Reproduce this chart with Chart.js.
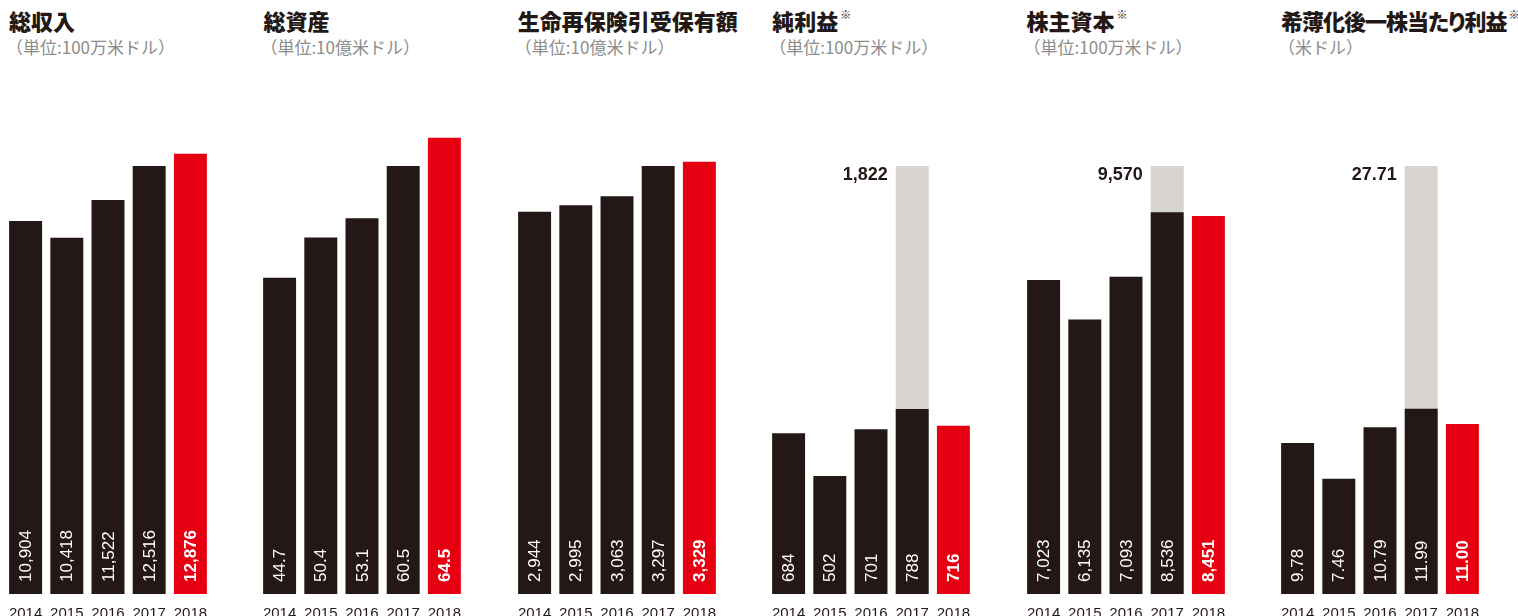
<!DOCTYPE html>
<html>
<head>
<meta charset="utf-8">
<script src="https://cdn.jsdelivr.net/npm/chart.js@4.4.1/dist/chart.umd.min.js"></script>
<style>
  html, body { margin: 0; padding: 0; background: #fff; overflow: hidden; }
  body { width: 1518px; height: 616px; position: relative; }
  .head { position: absolute; top: 5px; width: 250px; white-space: nowrap; }
  .ttl { font-family: "Noto Sans CJK JP", sans-serif; font-weight: 900; font-size: 22px; color: #231815; line-height: 30px; font-feature-settings: "palt"; }
  .ttl.long { letter-spacing: -1px; }
  .ttl .note { font-size: 11px; font-weight: 400; vertical-align: top; line-height: 14px; position: relative; top: 2px; margin-left: 2px; letter-spacing: 0; }
  .sub { font-family: "Noto Sans CJK JP", sans-serif; font-size: 17px; color: #8c8c8c; line-height: 24px; margin-left: -3px; }
  canvas { position: absolute; }
</style>
</head>
<body>
<script>
// data
const years = ['2014', '2015', '2016', '2017', '2018'];
const titles = ['総収入', '総資産', '生命再保険引受保有額', '純利益', '株主資本', '希薄化後一株当たり利益'];
const subtitles = ['（単位:100万米ドル）', '（単位:10億米ドル）', '（単位:10億米ドル）', '（単位:100万米ドル）', '（単位:100万米ドル）', '（米ドル）'];
const hasNote = [false, false, false, true, true, true];

const revenue = [10904, 10418, 11522, 12516, 12876];
const totalAssets = [44.7, 50.4, 53.1, 60.5, 64.5];
const lifeReinsurance = [2944, 2995, 3063, 3297, 3329];
const netIncome = [684, 502, 701, 788, 716];
const netIncomeGrey = [null, null, null, 1822, null];
const equity = [7023, 6135, 7093, 8536, 8451];
const equityGrey = [null, null, null, 9570, null];
const eps = [9.78, 7.46, 10.79, 11.99, 11.00];
const epsGrey = [null, null, null, 27.71, null];

const series = [revenue, totalAssets, lifeReinsurance, netIncome, equity, eps];
const greySeries = [null, null, null, netIncomeGrey, equityGrey, epsGrey];
const decimals = [0, 1, 0, 0, 0, 2];

const DARK = '#231815';
const RED = '#e60012';
const GREY = '#d7d3d0';
const PITCH = 254.4;

function fmt(v, d) {
    return v.toLocaleString('en-US', { minimumFractionDigits: d, maximumFractionDigits: d });
}

const barLabels = {
    id: 'barLabels',
    afterDatasetsDraw(chart) {
        const ctx = chart.ctx;
        const d = chart.options.plugins.barLabels.decimals;
        const vals = chart.data.datasets[0].data;
        chart.getDatasetMeta(0).data.forEach((bar, i) => {
            ctx.save();
            ctx.translate(bar.x + 1, bar.base - 12);
            ctx.rotate(-Math.PI / 2);
            ctx.fillStyle = '#fff';
            ctx.font = (i === vals.length - 1 ? 'bold ' : '') + '17px "Liberation Sans", Arial, sans-serif';
            ctx.textAlign = 'left';
            ctx.textBaseline = 'middle';
            ctx.fillText(fmt(vals[i], d), 0, 0);
            ctx.restore();
        });
        // total label next to grey bar
        if (chart.data.datasets.length > 1) {
            const greyVals = chart.data.datasets[1].data;
            chart.getDatasetMeta(1).data.forEach((bar, i) => {
                if (greyVals[i] == null) return;
                ctx.save();
                ctx.fillStyle = DARK;
                ctx.font = 'bold 18px "Liberation Sans", Arial, sans-serif';
                ctx.textAlign = 'right';
                ctx.textBaseline = 'alphabetic';
                ctx.fillText(fmt(greyVals[i], d), bar.x - bar.width / 2 - 8, bar.y + 14);
                ctx.restore();
            });
        }
    }
};

series.forEach((vals, n) => {
    const left = 9 + n * PITCH;

    const head = document.createElement('div');
    head.className = 'head';
    head.style.left = left + 'px';
    const cls = titles[n].length > 10 ? 'ttl long' : 'ttl';
    head.innerHTML = '<div class="' + cls + '">' + titles[n] + (hasNote[n] ? '<span class="note">※</span>' : '') +
        '</div><div class="sub">' + subtitles[n] + '</div>';
    document.body.appendChild(head);

    const canvas = document.createElement('canvas');
    canvas.width = 206;
    canvas.height = 522;
    canvas.style.left = (left - 4.1) + 'px';
    canvas.style.top = '101px';
    document.body.appendChild(canvas);

    const grey = greySeries[n];
    const refTop = grey ? grey[3] : vals[3];

    const datasets = [{
        data: vals,
        backgroundColor: vals.map((v, i) => i === vals.length - 1 ? RED : DARK),
        barPercentage: 0.8,
        categoryPercentage: 1.0,
        grouped: false
    }];
    if (grey) {
        datasets.push({
            data: grey,
            backgroundColor: GREY,
            barPercentage: 0.8,
            categoryPercentage: 1.0,
            grouped: false
        });
    }

    new Chart(canvas.getContext('2d'), {
        type: 'bar',
        data: { labels: years, datasets: datasets },
        options: {
            responsive: false,
            animation: false,
            layout: { padding: { top: 35, left: 0, right: 0, bottom: 0 } },
            scales: {
                x: {
                    grid: { display: false, drawTicks: true, tickLength: 11 },
                    border: { display: false },
                    ticks: {
                        color: DARK,
                        padding: 0,
                        maxRotation: 0,
                        font: { family: '"Liberation Sans", Arial, sans-serif', size: 15 }
                    }
                },
                y: {
                    display: false,
                    min: 0,
                    max: refTop * 1.07
                }
            },
            plugins: {
                legend: { display: false },
                tooltip: { enabled: false },
                barLabels: { decimals: decimals[n] }
            }
        },
        plugins: [barLabels]
    });
});
</script>
</body>
</html>
